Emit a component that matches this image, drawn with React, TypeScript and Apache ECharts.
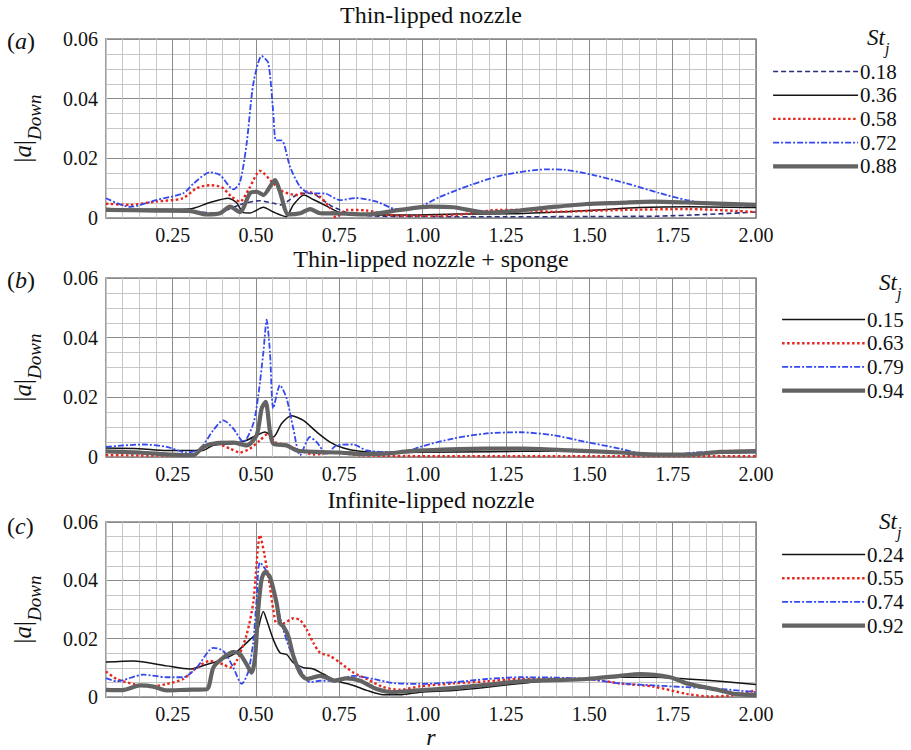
import React, { useEffect, useRef } from 'react';
import * as echarts from 'echarts';

const SERIF = 'Liberation Serif, Times New Roman, serif';

// ---------- tick labels ----------
const xMajorTicks = [0.25, 0.5, 0.75, 1.0, 1.25, 1.5, 1.75, 2.0];
const yMajorTicks = [0, 0.02, 0.04, 0.06];

// ---------- panel titles / legends ----------
const panelTitles = ['Thin-lipped nozzle', 'Thin-lipped nozzle + sponge', 'Infinite-lipped nozzle'];
const panelLetters = ['a', 'b', 'c'];
const namesA = ['0.18', '0.36', '0.58', '0.72', '0.88'];
const namesB = ['0.15', '0.63', '0.79', '0.94'];
const namesC = ['0.24', '0.55', '0.74', '0.92'];

// ---------- (a) Thin-lipped nozzle : [r, |a|Down] ----------
const a018: [number, number][] = [[0.05,0.0027],[0.15,0.0025],[0.25,0.0024],[0.33,0.002],[0.38,0.0016],[0.42,0.003],[0.45,0.0044],[0.51,0.0058],[0.55,0.005],[0.575,0.0044],[0.6,0.006],[0.632,0.0083],[0.67,0.0082],[0.7,0.006],[0.73,0.0038],[0.78,0.0016],[0.85,0.0007],[1.0,0.0005],[1.25,0.0004],[1.5,0.0005],[1.7,0.0006],[1.85,0.0012],[2.0,0.002]];
const a036: [number, number][] = [[0.05,0.0032],[0.15,0.0029],[0.3,0.003],[0.36,0.0051],[0.417,0.0066],[0.442,0.0051],[0.462,0.0018],[0.482,0.0017],[0.522,0.0036],[0.552,0.002],[0.59,0.0005],[0.612,0.0044],[0.644,0.0077],[0.672,0.0062],[0.712,0.004],[0.752,0.0018],[0.832,0.001],[0.95,0.001],[1.1,0.0013],[1.3,0.0015],[1.5,0.0025],[1.65,0.0035],[1.8,0.0038],[2.0,0.0035]];
const a058: [number, number][] = [[0.05,0.0048],[0.12,0.0044],[0.2,0.0055],[0.28,0.0066],[0.322,0.01],[0.362,0.011],[0.397,0.0103],[0.427,0.0071],[0.452,0.0055],[0.48,0.01],[0.512,0.0158],[0.552,0.0116],[0.582,0.0088],[0.622,0.0077],[0.655,0.0088],[0.692,0.0071],[0.722,0.0034],[0.74,0.0002],[0.772,0.0027],[0.832,0.0025],[0.9,0.001],[1.0,0.0007],[1.1,0.001],[1.23,0.0027],[1.3,0.0027],[1.39,0.0021],[1.6,0.0027],[1.8,0.003],[2.0,0.002]];
const a072: [number, number][] = [[0.05,0.0066],[0.122,0.0037],[0.2,0.006],[0.282,0.0083],[0.312,0.0115],[0.362,0.0153],[0.392,0.0144],[0.432,0.0096],[0.452,0.012],[0.472,0.025],[0.492,0.045],[0.517,0.0543],[0.537,0.0519],[0.552,0.035],[0.56,0.026],[0.577,0.026],[0.602,0.0172],[0.632,0.0105],[0.662,0.0083],[0.707,0.0082],[0.752,0.006],[0.8,0.0067],[0.862,0.0055],[0.922,0.0029],[0.97,0.003],[1.052,0.0071],[1.142,0.011],[1.242,0.0144],[1.372,0.0163],[1.422,0.0162],[1.512,0.0144],[1.612,0.0116],[1.712,0.0083],[1.792,0.006],[1.862,0.0047],[2.0,0.004]];
const a088: [number, number][] = [[0.05,0.0027],[0.2,0.0025],[0.3,0.0024],[0.352,0.0012],[0.392,0.0016],[0.422,0.0038],[0.452,0.002],[0.482,0.0083],[0.502,0.0088],[0.522,0.0077],[0.557,0.0127],[0.572,0.0088],[0.597,0.0012],[0.632,0.0016],[0.662,0.003],[0.692,0.0016],[0.75,0.0015],[0.832,0.0012],[0.932,0.0027],[1.022,0.0038],[1.092,0.0036],[1.192,0.0018],[1.292,0.0025],[1.392,0.0037],[1.492,0.0047],[1.592,0.0051],[1.692,0.0055],[1.792,0.0052],[2.0,0.0044]];

// ---------- (b) Thin-lipped nozzle + sponge ----------
const b015: [number, number][] = [[0.05,0.003],[0.15,0.0028],[0.23,0.0022],[0.34,0.0022],[0.372,0.0039],[0.432,0.0045],[0.472,0.0056],[0.502,0.0073],[0.527,0.0084],[0.552,0.0067],[0.577,0.0112],[0.607,0.0138],[0.642,0.0123],[0.682,0.0084],[0.722,0.005],[0.762,0.003],[0.812,0.0019],[0.882,0.0015],[1.0,0.0016],[1.2,0.0018],[1.4,0.002],[1.6,0.0015],[1.75,0.001],[1.9,0.0013],[2.0,0.0015]];
const b063: [number, number][] = [[0.05,0.0006],[0.2,0.0005],[0.312,0.0006],[0.352,0.0039],[0.382,0.0045],[0.422,0.0028],[0.452,0.0015],[0.482,0.0028],[0.512,0.0056],[0.537,0.0079],[0.557,0.005],[0.592,0.0039],[0.632,0.0022],[0.672,0.0008],[0.732,0.0015],[0.812,0.0006],[1.0,0.0003],[1.5,0.0003],[2.0,0.0003]];
const b079: [number, number][] = [[0.05,0.0034],[0.162,0.0042],[0.232,0.0034],[0.292,0.0015],[0.332,0.0028],[0.372,0.009],[0.402,0.0123],[0.432,0.0095],[0.462,0.005],[0.492,0.0112],[0.507,0.0207],[0.522,0.035],[0.532,0.046],[0.542,0.035],[0.552,0.0163],[0.572,0.0241],[0.592,0.0196],[0.612,0.0095],[0.632,0.0006],[0.662,0.0067],[0.682,0.005],[0.712,0.0011],[0.742,0.0039],[0.792,0.0042],[0.832,0.0022],[0.9,0.0017],[0.95,0.0018],[0.992,0.0034],[1.092,0.0062],[1.192,0.0079],[1.292,0.0083],[1.392,0.0073],[1.492,0.005],[1.592,0.0028],[1.672,0.0008],[1.742,0.0006],[1.812,0.0015],[1.892,0.0017],[2.0,0.0015]];
const b094: [number, number][] = [[0.05,0.0019],[0.15,0.0015],[0.25,0.0008],[0.312,0.0006],[0.342,0.0034],[0.382,0.0047],[0.432,0.0048],[0.472,0.0039],[0.502,0.0073],[0.517,0.0163],[0.529,0.0185],[0.542,0.0084],[0.552,0.0045],[0.592,0.0039],[0.622,0.0022],[0.682,0.0017],[0.75,0.0015],[0.82,0.001],[0.9,0.0012],[0.952,0.0019],[1.0,0.0022],[1.19,0.0028],[1.3,0.0028],[1.442,0.0022],[1.592,0.0015],[1.692,0.0008],[1.792,0.0008],[1.892,0.0017],[2.0,0.002]];

// ---------- (c) Infinite-lipped nozzle ----------
const c024: [number, number][] = [[0.05,0.012],[0.132,0.0124],[0.232,0.0107],[0.302,0.0096],[0.352,0.0112],[0.382,0.0122],[0.432,0.0146],[0.482,0.0197],[0.502,0.022],[0.522,0.0293],[0.532,0.0264],[0.552,0.0197],[0.572,0.0152],[0.592,0.0146],[0.612,0.0118],[0.642,0.0101],[0.672,0.0096],[0.702,0.0079],[0.742,0.0056],[0.792,0.004],[0.832,0.0023],[0.882,0.0008],[0.932,0.0008],[0.992,0.0017],[1.092,0.0023],[1.192,0.0034],[1.292,0.0047],[1.392,0.0058],[1.492,0.0062],[1.592,0.0068],[1.692,0.0068],[1.792,0.0062],[1.892,0.0054],[2.0,0.0043]];
const c055: [number, number][] = [[0.05,0.0088],[0.082,0.0062],[0.132,0.0045],[0.182,0.0036],[0.232,0.0045],[0.282,0.0062],[0.322,0.0101],[0.362,0.0124],[0.402,0.0112],[0.422,0.0101],[0.442,0.0124],[0.472,0.0214],[0.492,0.0326],[0.512,0.0555],[0.525,0.049],[0.542,0.0377],[0.552,0.0298],[0.562,0.0253],[0.582,0.0253],[0.612,0.027],[0.632,0.0264],[0.652,0.0231],[0.672,0.0186],[0.692,0.0152],[0.722,0.0141],[0.752,0.0118],[0.792,0.0084],[0.832,0.0062],[0.882,0.0034],[0.932,0.0025],[0.992,0.0037],[1.092,0.0047],[1.192,0.0054],[1.292,0.0062],[1.392,0.0062],[1.492,0.0062],[1.592,0.0047],[1.692,0.0036],[1.792,0.0011],[1.862,0.0002],[1.922,0.0005],[2.0,0.0023]];
const c074: [number, number][] = [[0.05,0.0065],[0.082,0.0054],[0.162,0.0077],[0.232,0.0068],[0.282,0.0068],[0.322,0.0101],[0.372,0.0169],[0.402,0.0158],[0.432,0.0101],[0.457,0.0045],[0.477,0.0088],[0.492,0.0191],[0.502,0.0338],[0.512,0.0461],[0.542,0.0411],[0.562,0.0321],[0.582,0.0231],[0.602,0.0163],[0.632,0.0096],[0.662,0.0051],[0.692,0.0056],[0.732,0.0056],[0.792,0.0073],[0.852,0.0062],[0.912,0.0048],[0.992,0.0045],[1.092,0.0051],[1.192,0.0062],[1.292,0.0068],[1.392,0.0067],[1.492,0.0062],[1.592,0.0047],[1.692,0.004],[1.792,0.0034],[1.892,0.0028],[2.0,0.0017]];
const c092: [number, number][] = [[0.05,0.0025],[0.1,0.0024],[0.152,0.004],[0.192,0.0036],[0.232,0.0023],[0.29,0.0025],[0.352,0.0027],[0.372,0.0101],[0.402,0.0135],[0.432,0.0154],[0.452,0.0147],[0.472,0.0112],[0.487,0.0084],[0.497,0.0135],[0.507,0.0304],[0.517,0.0405],[0.527,0.0428],[0.542,0.0411],[0.562,0.0321],[0.572,0.0253],[0.582,0.0242],[0.597,0.0208],[0.612,0.0141],[0.632,0.0084],[0.652,0.0062],[0.692,0.0073],[0.722,0.0062],[0.732,0.0056],[0.772,0.0064],[0.812,0.0056],[0.862,0.0028],[0.912,0.0017],[0.982,0.0023],[1.092,0.0031],[1.192,0.0042],[1.292,0.0054],[1.392,0.0058],[1.492,0.0062],[1.592,0.0073],[1.652,0.0079],[1.742,0.0068],[1.792,0.0047],[1.892,0.0023],[1.942,0.001],[2.0,0.0007]];

// ---------- styles ----------
const ST = {
  navyDash: { color: '#2d2d80', width: 1.6, type: [5, 3] as any },
  black: { color: '#141414', width: 1.5, type: 'solid' as any },
  redDot: { color: '#e8261e', width: 2.4, type: [2.5, 2.5] as any },
  blueDashDot: { color: '#3448f0', width: 1.8, type: [6, 2, 2, 2] as any },
  gray: { color: '#636363', width: 4.2, type: 'solid' as any },
};

const panels = [
  { names: namesA, data: [a018, a036, a058, a072, a088], styles: [ST.navyDash, ST.black, ST.redDot, ST.blueDashDot, ST.gray] },
  { names: namesB, data: [b015, b063, b079, b094], styles: [ST.black, ST.redDot, ST.blueDashDot, ST.gray] },
  { names: namesC, data: [c024, c055, c074, c092], styles: [ST.black, ST.redDot, ST.blueDashDot, ST.gray] },
];

const GRIDS = [
  { left: 106, top: 39, width: 650, height: 179 },
  { left: 106, top: 278, width: 650, height: 179 },
  { left: 106, top: 522, width: 650, height: 178 },
];
const LEGENDS = [
  { left: 771, top: 61, itemWidth: 85 },
  { left: 780, top: 309, itemWidth: 83 },
  { left: 780, top: 544, itemWidth: 83 },
];
const TITLE_Y = [15, 259, 500];
const LETTER_Y = [41, 280, 526];
const STJ = [{ x: 867, y: 41 }, { x: 879, y: 286 }, { x: 879, y: 525 }];

const MINOR = '#c6c6c6';
const MAJOR = '#8a8a8a';

const isMajor = (v: number, list: number[]) => list.some((t) => Math.abs(t - v) < 1e-7);

export default function App() {
  const ref = useRef<HTMLDivElement>(null);
  useEffect(() => {
    if (!ref.current) return;
    const chart = echarts.init(ref.current, null, { renderer: 'svg' });

    const grid: any[] = [];
    const xAxis: any[] = [];
    const yAxis: any[] = [];
    const series: any[] = [];
    const legend: any[] = [];
    const graphic: any[] = [];

    panels.forEach((p, i) => {
      grid.push({ ...GRIDS[i], show: true, borderColor: '#858585', borderWidth: 1.6, backgroundColor: 'transparent' });
      xAxis.push({
        gridIndex: i, type: 'value', min: 0.05, max: 2.0, interval: 0.05,
        axisLine: { show: false }, axisTick: { show: false },
        axisLabel: {
          fontFamily: SERIF, fontSize: 20, color: '#111', margin: 7,
          formatter: (v: number) => (isMajor(v, xMajorTicks) ? v.toFixed(2) : ''),
        },
        splitLine: { show: true, lineStyle: { color: [MINOR, MINOR, MINOR, MINOR, MAJOR], width: 1 } },
        ...(i === 2
          ? { name: 'r', nameLocation: 'middle', nameGap: 24, nameTextStyle: { fontFamily: SERIF, fontSize: 24, fontStyle: 'italic', color: '#111' } }
          : {}),
      });
      yAxis.push({
        gridIndex: i, type: 'value', min: 0, max: 0.06, interval: 0.005,
        axisLine: { show: false }, axisTick: { show: false },
        axisLabel: {
          fontFamily: SERIF, fontSize: 20, color: '#111', margin: 8,
          formatter: (v: number) => (isMajor(v, yMajorTicks) ? (Math.abs(v) < 1e-9 ? '0' : v.toFixed(2)) : ''),
        },
        splitLine: { show: true, lineStyle: { color: [MAJOR, MINOR, MINOR, MINOR], width: 1 } },
        name: '{n||}{i|a}{n||}{s|Down}',
        nameLocation: 'middle', nameRotate: 90, nameGap: 62,
        nameTextStyle: {
          fontFamily: SERIF, color: '#111',
          rich: {
            n: { fontFamily: SERIF, fontSize: 25, color: '#111', lineHeight: 24, verticalAlign: 'top' },
            i: { fontFamily: SERIF, fontSize: 25, fontStyle: 'italic', color: '#111', lineHeight: 24, verticalAlign: 'top' },
            s: { fontFamily: SERIF, fontSize: 19, fontStyle: 'italic', color: '#111', lineHeight: 34, verticalAlign: 'bottom' },
          },
        },
      });
      p.names.forEach((nm, k) => {
        const st = p.styles[k];
        series.push({
          type: 'line', name: nm, xAxisIndex: i, yAxisIndex: i, data: p.data[k],
          smooth: 0.25, symbol: 'none', showSymbol: false,
          lineStyle: { color: st.color, width: st.width, type: st.type },
          itemStyle: { color: st.color },
        });
      });
      legend.push({
        left: LEGENDS[i].left, top: LEGENDS[i].top, orient: 'vertical', padding: 0,
        itemWidth: LEGENDS[i].itemWidth, itemHeight: 14, itemGap: 2.7, selectedMode: false,
        itemStyle: { opacity: 0, borderWidth: 0 },
        textStyle: { fontFamily: SERIF, fontSize: 21, color: '#111', lineHeight: 20, padding: [0, 0, 0, -3] },
        data: p.names.map((nm, k) => ({ name: nm, itemStyle: { opacity: 0, borderWidth: 0 }, lineStyle: { width: p.styles[k].width } })),
      });
      graphic.push({
        type: 'text', x: 431, y: TITLE_Y[i],
        style: { text: panelTitles[i], font: `24px ${SERIF}`, fill: '#111', textAlign: 'center', textVerticalAlign: 'middle' },
      });
      graphic.push({
        type: 'text', x: 7, y: LETTER_Y[i],
        style: {
          text: `{p|(}{i|${panelLetters[i]}}{p|)}`, fill: '#111', textVerticalAlign: 'middle',
          rich: {
            p: { fontFamily: SERIF, fontSize: 24, fill: '#111', color: '#111' },
            i: { fontFamily: SERIF, fontSize: 24, fontStyle: 'italic', fill: '#111', color: '#111' },
          },
        },
      });
      graphic.push({
        type: 'text', x: STJ[i].x, y: STJ[i].y,
        style: {
          text: '{i|St}{s|j}', fill: '#111', textVerticalAlign: 'middle',
          rich: {
            i: { fontFamily: SERIF, fontSize: 23, fontStyle: 'italic', fill: '#111', color: '#111', lineHeight: 22, verticalAlign: 'top' },
            s: { fontFamily: SERIF, fontSize: 16, fontStyle: 'italic', fill: '#111', color: '#111', lineHeight: 30, verticalAlign: 'bottom' },
          },
        },
      });
    });

    chart.setOption({
      animation: false,
      backgroundColor: '#ffffff',
      grid, xAxis, yAxis, series, legend, graphic,
    });
    return () => chart.dispose();
  }, []);
  return <div ref={ref} style={{ position: 'fixed', left: 0, top: 0, width: 911, height: 750 }} />;
}
